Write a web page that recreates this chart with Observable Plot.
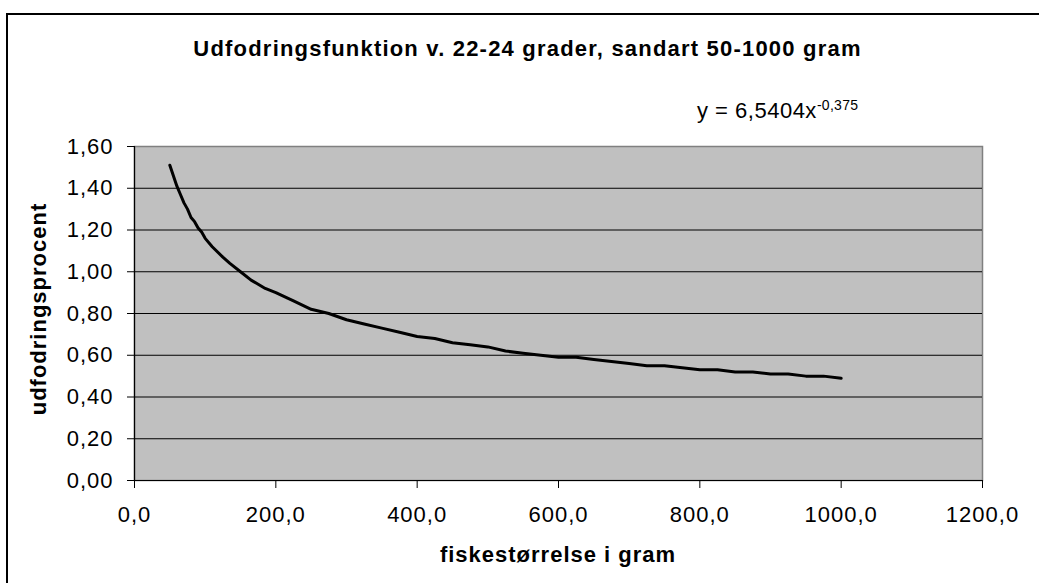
<!DOCTYPE html>
<html>
<head>
<meta charset="utf-8">
<script src="https://cdn.jsdelivr.net/npm/d3@7"></script>
<script src="https://cdn.jsdelivr.net/npm/@observablehq/plot@0.6"></script>
<style>
  html, body { margin: 0; padding: 0; background: #fff; overflow: hidden; }
  #wrap { position: relative; width: 1039px; height: 583px; overflow: hidden; font-family: "Liberation Sans", Arial, sans-serif; }
  #border { position: absolute; left: 6px; top: 13px; width: 1100px; height: 700px; border-left: 2px solid #000; border-top: 2px solid #000; box-sizing: border-box; }
  .lbl { position: absolute; white-space: nowrap; color: #000; }
  #title { left: 0; width: 1055px; top: 36px; text-align: center; font-weight: bold; font-size: 22px; letter-spacing: 1.2px; line-height: 26px; }
  #eq { left: 697px; top: 98px; font-size: 22px; letter-spacing: 0.5px; line-height: 26px; }
  #eq sup { font-size: 14px; position: relative; top: -6px; vertical-align: top; letter-spacing: 0.3px; }
  #xtitle { left: 134px; width: 848px; top: 542px; text-align: center; font-weight: bold; font-size: 22px; letter-spacing: 1px; line-height: 26px; }
  #ytitle { left: 39px; top: 309px; transform: translate(-50%, -50%) rotate(-90deg); font-weight: bold; font-size: 22px; letter-spacing: 1px; line-height: 26px; }
  svg { position: absolute; left: 0; top: 0; }
</style>
</head>
<body>
<div id="wrap">
  <div id="chart"></div>
  <div id="border"></div>
  <div class="lbl" id="title">Udfodringsfunktion v. 22-24 grader, sandart 50-1000 gram</div>
  <div class="lbl" id="eq">y = 6,5404x<sup>-0,375</sup></div>
  <div class="lbl" id="xtitle">fiskestørrelse i gram</div>
  <div class="lbl" id="ytitle">udfodringsprocent</div>
</div>
<script>
// fish size (gram)
const fishWeight = [50, 55, 60, 65, 70, 75, 80, 85, 90, 95, 100, 110, 125, 135, 150, 165, 175, 185, 200, 225, 250, 275, 300, 325, 350, 375, 400, 425, 450, 475, 500, 525, 550, 575, 600, 625, 650, 675, 700, 725, 750, 775, 800, 825, 850, 875, 900, 925, 950, 975, 1000];
// feeding percent
const feedPercent = [1.51, 1.46, 1.41, 1.37, 1.33, 1.30, 1.26, 1.24, 1.21, 1.19, 1.16, 1.12, 1.07, 1.04, 1.00, 0.96, 0.94, 0.92, 0.90, 0.86, 0.82, 0.80, 0.77, 0.75, 0.73, 0.71, 0.69, 0.68, 0.66, 0.65, 0.64, 0.62, 0.61, 0.60, 0.59, 0.59, 0.58, 0.57, 0.56, 0.55, 0.55, 0.54, 0.53, 0.53, 0.52, 0.52, 0.51, 0.51, 0.50, 0.50, 0.49];
const xTicks = [0, 200, 400, 600, 800, 1000, 1200];
const yTicks = [0, 0.2, 0.4, 0.6, 0.8, 1.0, 1.2, 1.4, 1.6];
const yGrid = [0.2, 0.4, 0.6, 0.8, 1.0, 1.2, 1.4];

const data = fishWeight.map((w, i) => ({w, p: feedPercent[i]}));
const fmt1 = d => d.toFixed(1).replace(".", ",");
const fmt2 = d => d.toFixed(2).replace(".", ",");

const chart = Plot.plot({
  width: 1039,
  height: 583,
  marginLeft: 134,
  marginRight: 57,
  marginTop: 146,
  marginBottom: 103,
  style: {fontFamily: "'Liberation Sans', Arial, sans-serif", fontSize: "22px", letterSpacing: "1px", background: "transparent", color: "#000"},
  x: {domain: [0, 1200]},
  y: {domain: [0, 1.6]},
  marks: [
    Plot.frame({fill: "#c0c0c0", stroke: "#808080", strokeWidth: 1.5}),
    Plot.gridY(yGrid, {stroke: "#000", strokeOpacity: 1, strokeWidth: 1}),
    Plot.ruleX([0], {stroke: "#000", strokeWidth: 1.2}),
    Plot.ruleY([0], {stroke: "#000", strokeWidth: 1.2}),
    Plot.axisX({ticks: xTicks, tickFormat: fmt1, tickSize: 8, tickPadding: 18, stroke: "#000", label: null, fill: "#000"}),
    Plot.axisY({ticks: yTicks, tickFormat: fmt2, tickSize: 7, tickPadding: 14, stroke: "#000", label: null, fill: "#000"}),
    Plot.line(data, {x: "w", y: "p", stroke: "#000", strokeWidth: 3})
  ]
});
document.getElementById("chart").appendChild(chart);
</script>
</body>
</html>
